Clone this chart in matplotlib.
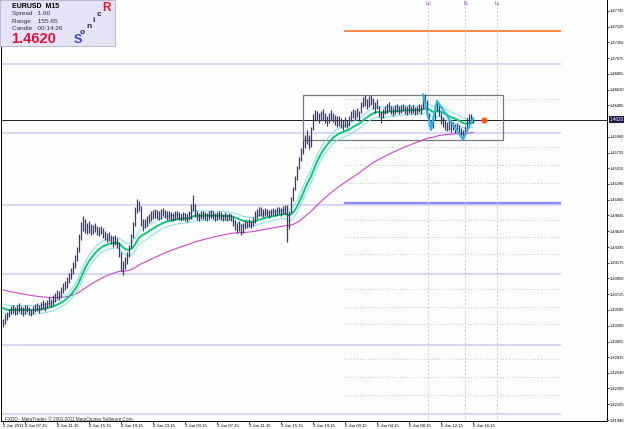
import numpy as np
import matplotlib.pyplot as plt
from matplotlib.patches import Rectangle

# EURUSD M15, valores (maximos / minimos de cada vela)
highs = [1.4338, 1.4345, 1.4348, 1.4352, 1.4356, 1.4357, 1.4355, 1.4358, 1.4360, 1.4356,
         1.4354, 1.4358, 1.4357, 1.4354, 1.4352, 1.4356, 1.4359, 1.4360, 1.4357, 1.4362,
         1.4364, 1.4361, 1.4365, 1.4368, 1.4366, 1.4371, 1.4375, 1.4378, 1.4377, 1.4383,
         1.4388, 1.4392, 1.4397, 1.4402, 1.4410, 1.4419, 1.4428, 1.4440, 1.4458, 1.4475,
         1.4484, 1.4480, 1.4474, 1.4476, 1.4472, 1.4471, 1.4474, 1.4470, 1.4468, 1.4470,
         1.4466, 1.4462, 1.4460, 1.4461, 1.4457, 1.4455, 1.4456, 1.4452, 1.4446, 1.4432,
         1.4420, 1.4425, 1.4432, 1.4443, 1.4458, 1.4475, 1.4496, 1.4508, 1.4505, 1.4498,
         1.4480, 1.4480, 1.4484, 1.4487, 1.4490, 1.4492, 1.4494, 1.4492, 1.4491, 1.4493,
         1.4495, 1.4492, 1.4490, 1.4491, 1.4489, 1.4488, 1.4490, 1.4491, 1.4489, 1.4487,
         1.4489, 1.4488, 1.4486, 1.4490, 1.4500, 1.4514, 1.4500, 1.4490, 1.4488, 1.4490,
         1.4491, 1.4489, 1.4488, 1.4490, 1.4492, 1.4490, 1.4488, 1.4489, 1.4490, 1.4489,
         1.4487, 1.4489, 1.4487, 1.4488, 1.4486, 1.4482, 1.4478, 1.4474, 1.4476, 1.4472,
         1.4474, 1.4478, 1.4477, 1.4479, 1.4477, 1.4482, 1.4490, 1.4494, 1.4496, 1.4497,
         1.4494, 1.4495, 1.4494, 1.4492, 1.4494, 1.4495, 1.4494, 1.4496, 1.4497, 1.4495,
         1.4498, 1.4499, 1.4499, 1.4490, 1.4510, 1.4525, 1.4540, 1.4555, 1.4568, 1.4580,
         1.4592, 1.4598, 1.4605, 1.4598, 1.4610, 1.4628, 1.4634, 1.4633, 1.4630, 1.4632,
         1.4635, 1.4630, 1.4626, 1.4630, 1.4634, 1.4630, 1.4627, 1.4625, 1.4626, 1.4622,
         1.4620, 1.4624, 1.4620, 1.4626, 1.4632, 1.4636, 1.4634, 1.4637, 1.4633, 1.4645,
         1.4652, 1.4655, 1.4650, 1.4654, 1.4656, 1.4651, 1.4646, 1.4650, 1.4640, 1.4632,
         1.4636, 1.4640, 1.4642, 1.4645, 1.4640, 1.4638, 1.4641, 1.4643, 1.4639, 1.4641,
         1.4643, 1.4640, 1.4639, 1.4642, 1.4640, 1.4641, 1.4638, 1.4640, 1.4643, 1.4641,
         1.4656, 1.4657, 1.4648, 1.4630, 1.4620, 1.4624, 1.4640, 1.4647, 1.4642, 1.4630,
         1.4624, 1.4620, 1.4617, 1.4618, 1.4615, 1.4617, 1.4614, 1.4616, 1.4613, 1.4608,
         1.4605, 1.4612, 1.4622, 1.4628, 1.4629, 1.4622]
lows = [1.4326, 1.4330, 1.4336, 1.4340, 1.4344, 1.4346, 1.4343, 1.4345, 1.4348, 1.4344,
        1.4342, 1.4345, 1.4347, 1.4343, 1.4341, 1.4344, 1.4347, 1.4349, 1.4346, 1.4350,
        1.4352, 1.4349, 1.4353, 1.4356, 1.4354, 1.4358, 1.4362, 1.4366, 1.4364, 1.4369,
        1.4374, 1.4378, 1.4382, 1.4388, 1.4394, 1.4401, 1.4410, 1.4420, 1.4432, 1.4450,
        1.4462, 1.4460, 1.4458, 1.4460, 1.4456, 1.4458, 1.4461, 1.4457, 1.4455, 1.4458,
        1.4452, 1.4450, 1.4446, 1.4448, 1.4444, 1.4440, 1.4443, 1.4438, 1.4425, 1.4405,
        1.4400, 1.4408, 1.4415, 1.4425, 1.4438, 1.4452, 1.4470, 1.4488, 1.4490, 1.4470,
        1.4462, 1.4466, 1.4470, 1.4474, 1.4476, 1.4479, 1.4481, 1.4480, 1.4478, 1.4480,
        1.4483, 1.4481, 1.4478, 1.4480, 1.4477, 1.4476, 1.4478, 1.4480, 1.4478, 1.4476,
        1.4478, 1.4476, 1.4475, 1.4478, 1.4480, 1.4490, 1.4482, 1.4478, 1.4477, 1.4479,
        1.4480, 1.4478, 1.4477, 1.4479, 1.4481, 1.4479, 1.4477, 1.4478, 1.4480, 1.4478,
        1.4476, 1.4478, 1.4476, 1.4478, 1.4476, 1.4470, 1.4464, 1.4460, 1.4462, 1.4457,
        1.4460, 1.4465, 1.4466, 1.4468, 1.4466, 1.4470, 1.4474, 1.4480, 1.4483, 1.4484,
        1.4482, 1.4484, 1.4483, 1.4481, 1.4483, 1.4485, 1.4484, 1.4485, 1.4486, 1.4484,
        1.4486, 1.4487, 1.4447, 1.4465, 1.4488, 1.4505, 1.4520, 1.4535, 1.4550, 1.4562,
        1.4572, 1.4580, 1.4586, 1.4578, 1.4582, 1.4605, 1.4618, 1.4620, 1.4616, 1.4618,
        1.4620, 1.4615, 1.4612, 1.4616, 1.4620, 1.4617, 1.4613, 1.4610, 1.4612, 1.4608,
        1.4606, 1.4610, 1.4608, 1.4612, 1.4618, 1.4622, 1.4620, 1.4624, 1.4619, 1.4630,
        1.4638, 1.4640, 1.4636, 1.4638, 1.4641, 1.4636, 1.4630, 1.4635, 1.4624, 1.4616,
        1.4622, 1.4628, 1.4630, 1.4632, 1.4628, 1.4626, 1.4629, 1.4631, 1.4628, 1.4630,
        1.4632, 1.4629, 1.4627, 1.4630, 1.4628, 1.4630, 1.4627, 1.4629, 1.4631, 1.4628,
        1.4636, 1.4640, 1.4625, 1.4612, 1.4606, 1.4608, 1.4620, 1.4632, 1.4625, 1.4614,
        1.4610, 1.4606, 1.4604, 1.4606, 1.4603, 1.4605, 1.4602, 1.4604, 1.4600, 1.4594,
        1.4592, 1.4598, 1.4606, 1.4614, 1.4616, 1.4616]

precio_actual = 1.4620
inicio_ma_rapida = 1.4353   # valor de la media verde en la primera vela
inicio_ma_lenta = 1.4379    # valor de la media magenta en la primera vela

# niveles horizontales
niveles_lavanda = [1.46993, 1.46014, 1.44992, 1.44013, 1.43006, 1.42026]
nivel_naranja = 1.47461
nivel_azul = 1.45021
niveles_verdes = [1.46496, 1.45820, 1.45565, 1.45310, 1.44780, 1.44540, 1.44300,
                  1.43800, 1.43545, 1.43300, 1.42800, 1.42545, 1.42300]

# zigzag (indices de velas)
zigzag_idx = [210, 214, 217, 230, 235]
zigzag_tipo = ['h', 'l', 'h', 'l', 'h']

# caja y lineas verticales
caja = (150, 250, 1.4592, 1.4656)
verticales = [212.5, 231, 247]
verticales_txt = ['Lo', 'N', 'Lc']

etiquetas_y = ['1.47745', '1.47520', '1.47300', '1.47075', '1.46855', '1.46630', '1.46405',
               '1.45960', '1.45735', '1.45515', '1.45290', '1.45065', '1.44845', '1.44620',
               '1.44395', '1.44175', '1.43950', '1.43725', '1.43505', '1.43280', '1.43055',
               '1.42835', '1.42610', '1.42390', '1.42165', '1.41940']
etiquetas_x = ['2 Jun 2011', '2 Jun 07:15', '2 Jun 11:15', '2 Jun 15:15', '2 Jun 19:15',
               '2 Jun 23:15', '3 Jun 03:15', '3 Jun 07:15', '3 Jun 11:15', '3 Jun 15:15',
               '3 Jun 19:15', '6 Jun 00:15', '6 Jun 04:15', '6 Jun 08:15', '6 Jun 12:15',
               '6 Jun 16:15']
posiciones_x = [0, 11, 27, 43, 59, 75, 91, 107, 123, 139, 155, 171, 187, 203, 219, 235]


def ema(valores, periodo, inicio):
    a = 2.0 / (periodo + 1)
    salida = [inicio]
    for v in valores[1:]:
        salida.append(salida[-1] + a * (v - salida[-1]))
    return np.array(salida)


highs = np.array(highs)
lows = np.array(lows)
medio = (highs + lows) / 2
idx = np.arange(len(highs))

ma_rapida = ema(medio, 21, inicio_ma_rapida)
banda_sup = ema(highs, 21, inicio_ma_rapida + 0.0006)
banda_inf = ema(lows, 21, inicio_ma_rapida - 0.0006)
ma_lenta = ema(medio, 90, inicio_ma_lenta)

fuente = 'Liberation Sans'
plt.rcParams['font.family'] = [fuente, 'DejaVu Sans']

W, H = 625, 429
fig = plt.figure(figsize=(W / 100, H / 100), dpi=100)
fig.patch.set_facecolor('white')
ax = fig.add_axes([1 / W, 8.5 / H, 606 / W, 420.5 / H])
ax.set_facecolor('#fefefe')
ax.set_xlim(-1, 302)
ax.set_ylim(1.41934, 1.47901)

fin_niveles = 278.5
for n in niveles_lavanda:
    ax.plot([-1, fin_niveles], [n, n], color='#d6d6f4', lw=1.4, zorder=1)
for n in niveles_verdes:
    ax.plot([171, fin_niveles], [n, n], color='#9fe39f', lw=0.7, ls=(0, (1, 2)), zorder=1)
ax.plot([171, fin_niveles], [nivel_naranja, nivel_naranja], color='#ff8844', lw=1.4, zorder=1)
ax.plot([171, fin_niveles], [nivel_azul, nivel_azul], color='#8888ff', lw=1.6, zorder=1)

for v, t in zip(verticales, verticales_txt):
    ax.axvline(v, color='#c8c8e6', lw=0.7, ls=(0, (2, 2)), zorder=1)
    ax.text(v, 1.4785, t, color='#9933cc', fontsize=3.6, ha='center', va='center')

ax.axhline(precio_actual, color='#222222', lw=0.7, zorder=2)

ax.add_patch(Rectangle((caja[0], caja[2]), caja[1] - caja[0], caja[3] - caja[2],
                       fill=False, ec='#7a7a7a', lw=0.9, zorder=3))

ax.plot(idx, ma_lenta, color='#cc44cc', lw=0.8, zorder=4)
ax.plot(idx, banda_sup, color='#7fdcf0', lw=0.7, zorder=4)
ax.plot(idx, banda_inf, color='#7fdcf0', lw=0.7, zorder=4)
ax.plot(idx, ma_rapida, color='#00cc77', lw=1.4, zorder=5)

ax.vlines(idx, lows, highs, color='#3c3c5e', lw=0.9, zorder=6)

zz_y = [highs[i] if t == 'h' else lows[i] for i, t in zip(zigzag_idx, zigzag_tipo)]
ax.plot(zigzag_idx, zz_y, color='#22bbee', lw=1.5, zorder=7)
ax.plot(240.5, precio_actual, 'o', color='#ff5522', ms=3.5, mec='#ff5522', zorder=8)

# ejes
ax.spines['top'].set_visible(False)
for s in ['left', 'bottom', 'right']:
    ax.spines[s].set_color('#000000')
    ax.spines[s].set_linewidth(0.7)
ax.yaxis.tick_right()
ax.set_yticks([float(e) for e in etiquetas_y])
ax.set_yticklabels(etiquetas_y)
ax.tick_params(axis='y', length=1.5, width=0.5, labelsize=2.9, pad=0.6)
ax.set_xticks(posiciones_x)
ax.set_xticklabels(etiquetas_x)
ax.tick_params(axis='x', length=2, width=0.5, labelsize=3.1, pad=0.8)
for lab in ax.get_xticklabels():
    lab.set_ha('left')

# etiqueta del precio actual
ax.text(1.004, precio_actual, '1.4620', transform=ax.get_yaxis_transform(), fontsize=3.3,
        color='white', va='center', ha='left',
        bbox=dict(boxstyle='square,pad=0.2', fc='#1a1a4a', ec='none'))

ax.text(1, 1.4195, 'FXDD - MetaTrader, \u00a9 2001-2011 MetaQuotes Software Corp.',
        fontsize=3.3, color='#333333', va='center')


def px(x, y):
    return x / W, 1 - y / H


# panel de informacion
fig.patches.append(Rectangle(px(0, 46), 115 / W, 46 / H, transform=fig.transFigure,
                             fc='#e4e4f6', ec='#b0b0c8', lw=0.6, zorder=10))
fig.text(*px(12, 6), 'EURUSD  M15', fontsize=5, weight='bold', va='center', zorder=11)
fig.text(*px(12, 14), 'Spread   1.60', fontsize=4.6, color='#333333', va='center', zorder=11)
fig.text(*px(12, 21), 'Range    155.65', fontsize=4.6, color='#333333', va='center', zorder=11)
fig.text(*px(12, 28), 'Candle   00:14:26', fontsize=4.6, color='#333333', va='center', zorder=11)
fig.text(*px(11, 39), '1.4620', fontsize=10.5, weight='bold', color='#e0103a', va='center', zorder=11)
fig.text(*px(74, 40), 'S', fontsize=9, weight='bold', color='#3344dd', va='center', zorder=11)
fig.text(*px(80, 32), 'o', fontsize=6, weight='bold', color='#222244', va='center', zorder=11)
fig.text(*px(86, 26), 'n', fontsize=6, weight='bold', color='#222244', va='center', zorder=11)
fig.text(*px(92, 20), 'i', fontsize=6, weight='bold', color='#222244', va='center', zorder=11)
fig.text(*px(97, 14), 'c', fontsize=6, weight='bold', color='#222244', va='center', zorder=11)
fig.text(*px(102, 8), 'R', fontsize=8.5, weight='bold', color='#ee1122', va='center', zorder=11)

fig.savefig('out.png', dpi=100)
